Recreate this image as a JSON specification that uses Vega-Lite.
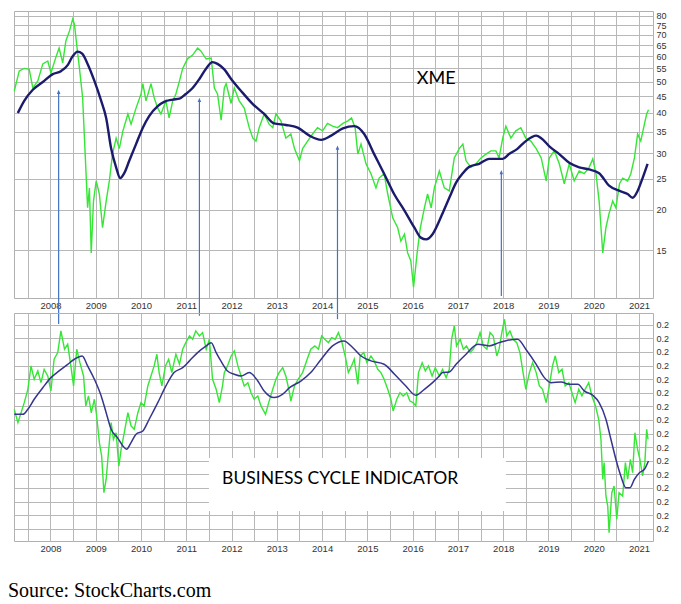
{
  "$schema": "https://vega.github.io/schema/vega-lite/v6.json",
  "background": "white",
  "padding": {"left": 8, "top": 10, "right": 5, "bottom": 5},
  "bounds": "flush",
  "spacing": 15,
  "title": {"text": "Source: StockCharts.com", "orient": "bottom", "anchor": "start", "frame": "group", "font": "Liberation Serif", "fontSize": 20, "fontWeight": "normal", "color": "#000000", "offset": 28, "dx": -6},
  "config": {
    "view": {"stroke": "#b0b0b0"},
    "axis": {"grid": true, "gridColor": "#b8b8b8", "gridOpacity": 1, "gridWidth": 1, "domain": false, "ticks": false, "labelFont": "Liberation Sans", "labelFontSize": 9.5, "labelColor": "#333333", "labelOverlap": false, "labelFlush": false, "labelBound": false}
  },
  "datasets": {
    "xme": [
      {"t":2007.20,"v":46.8},{"t":2007.31,"v":54},{"t":2007.42,"v":55},{"t":2007.53,"v":54.6},{"t":2007.61,"v":47.8},{"t":2007.72,"v":50.3},{"t":2007.83,"v":56.8},{"t":2007.94,"v":58},{"t":2008.01,"v":53.2},{"t":2008.12,"v":59.6},{"t":2008.19,"v":63.6},{"t":2008.27,"v":57.2},{"t":2008.34,"v":66.9},{"t":2008.42,"v":71.9},{"t":2008.49,"v":78.2},{"t":2008.53,"v":75.3},{"t":2008.58,"v":65},{"t":2008.64,"v":55},{"t":2008.71,"v":44.6},{"t":2008.77,"v":29},{"t":2008.82,"v":20.3},{"t":2008.86,"v":23.4},{"t":2008.90,"v":14.7},{"t":2008.95,"v":21.3},{"t":2009.01,"v":24.6},{"t":2009.08,"v":22.4},{"t":2009.15,"v":17.6},{"t":2009.23,"v":21.3},{"t":2009.30,"v":24.6},{"t":2009.37,"v":29.8},{"t":2009.45,"v":33.4},{"t":2009.52,"v":31},{"t":2009.60,"v":35.2},{"t":2009.71,"v":39.7},{"t":2009.78,"v":36.9},{"t":2009.89,"v":41.4},{"t":2010.00,"v":45.8},{"t":2010.04,"v":49.3},{"t":2010.11,"v":43.6},{"t":2010.22,"v":49.3},{"t":2010.29,"v":44.6},{"t":2010.37,"v":41.4},{"t":2010.44,"v":39.7},{"t":2010.55,"v":43.6},{"t":2010.62,"v":38.6},{"t":2010.70,"v":43.6},{"t":2010.77,"v":45.8},{"t":2010.85,"v":50.3},{"t":2010.92,"v":55},{"t":2011.03,"v":59},{"t":2011.14,"v":60.5},{"t":2011.25,"v":63.6},{"t":2011.32,"v":62.3},{"t":2011.44,"v":58.8},{"t":2011.55,"v":59.2},{"t":2011.62,"v":47.8},{"t":2011.69,"v":45.8},{"t":2011.77,"v":38},{"t":2011.84,"v":47.8},{"t":2011.88,"v":49.3},{"t":2011.99,"v":42.8},{"t":2012.06,"v":47.8},{"t":2012.17,"v":43.6},{"t":2012.28,"v":41.4},{"t":2012.39,"v":36},{"t":2012.47,"v":33.4},{"t":2012.54,"v":32.7},{"t":2012.61,"v":36},{"t":2012.72,"v":39.7},{"t":2012.83,"v":36.9},{"t":2012.91,"v":36},{"t":2012.98,"v":39.7},{"t":2013.09,"v":37.8},{"t":2013.20,"v":33.4},{"t":2013.31,"v":34.4},{"t":2013.39,"v":31},{"t":2013.50,"v":28.4},{"t":2013.57,"v":31},{"t":2013.68,"v":32.7},{"t":2013.79,"v":34.4},{"t":2013.90,"v":36},{"t":2014.01,"v":35.2},{"t":2014.12,"v":37.1},{"t":2014.23,"v":36.4},{"t":2014.34,"v":36},{"t":2014.46,"v":37.1},{"t":2014.57,"v":37.8},{"t":2014.65,"v":38.6},{"t":2014.73,"v":36},{"t":2014.79,"v":29.8},{"t":2014.86,"v":32},{"t":2014.97,"v":27.8},{"t":2015.08,"v":25.9},{"t":2015.19,"v":23.4},{"t":2015.26,"v":25.1},{"t":2015.37,"v":25.9},{"t":2015.45,"v":22.4},{"t":2015.56,"v":18.9},{"t":2015.67,"v":17.6},{"t":2015.74,"v":16},{"t":2015.82,"v":16.8},{"t":2015.89,"v":14.7},{"t":2015.96,"v":13.9},{"t":2016.02,"v":11.5},{"t":2016.10,"v":14.7},{"t":2016.17,"v":17.6},{"t":2016.26,"v":20.3},{"t":2016.33,"v":22.4},{"t":2016.41,"v":20.3},{"t":2016.48,"v":23.4},{"t":2016.59,"v":26.4},{"t":2016.70,"v":23.4},{"t":2016.81,"v":22.9},{"t":2016.92,"v":29},{"t":2017.03,"v":31},{"t":2017.11,"v":32},{"t":2017.18,"v":28.4},{"t":2017.29,"v":27.1},{"t":2017.40,"v":27.8},{"t":2017.51,"v":29},{"t":2017.62,"v":29.8},{"t":2017.73,"v":30.5},{"t":2017.84,"v":30.5},{"t":2017.91,"v":29},{"t":2017.99,"v":33.4},{"t":2018.06,"v":36.4},{"t":2018.17,"v":33.4},{"t":2018.28,"v":35.2},{"t":2018.39,"v":36},{"t":2018.50,"v":33.4},{"t":2018.61,"v":32.7},{"t":2018.73,"v":31},{"t":2018.84,"v":29},{"t":2018.95,"v":24.6},{"t":2019.02,"v":29},{"t":2019.13,"v":30.5},{"t":2019.24,"v":27.8},{"t":2019.35,"v":24.1},{"t":2019.46,"v":27.8},{"t":2019.57,"v":24.6},{"t":2019.68,"v":26.4},{"t":2019.79,"v":25.9},{"t":2019.90,"v":27.1},{"t":2019.98,"v":28.8},{"t":2020.05,"v":25.9},{"t":2020.12,"v":21.3},{"t":2020.20,"v":14.7},{"t":2020.27,"v":17.6},{"t":2020.34,"v":19.5},{"t":2020.42,"v":21.3},{"t":2020.49,"v":20.3},{"t":2020.57,"v":24.1},{"t":2020.64,"v":25.1},{"t":2020.75,"v":24.6},{"t":2020.82,"v":25.9},{"t":2020.90,"v":29},{"t":2020.97,"v":34.4},{"t":2021.04,"v":32.7},{"t":2021.12,"v":36.9},{"t":2021.17,"v":39.7},{"t":2021.21,"v":40.9}
    ],
    "xmeMA": [
      {"t":2007.28,"v":40},{"t":2007.42,"v":43.6},{"t":2007.61,"v":47.2},{"t":2007.83,"v":49.9},{"t":2008.05,"v":52.8},{"t":2008.23,"v":53.9},{"t":2008.38,"v":56.3},{"t":2008.49,"v":60},{"t":2008.60,"v":62},{"t":2008.70,"v":61.1},{"t":2008.82,"v":56.8},{"t":2008.97,"v":50.3},{"t":2009.12,"v":43.6},{"t":2009.23,"v":38.6},{"t":2009.34,"v":31},{"t":2009.45,"v":27.1},{"t":2009.54,"v":25.1},{"t":2009.63,"v":26},{"t":2009.74,"v":28.4},{"t":2009.89,"v":32},{"t":2010.04,"v":36},{"t":2010.18,"v":39.1},{"t":2010.37,"v":42},{"t":2010.51,"v":43.3},{"t":2010.70,"v":44},{"t":2010.85,"v":44.3},{"t":2010.99,"v":45.8},{"t":2011.14,"v":47.8},{"t":2011.29,"v":51},{"t":2011.44,"v":55},{"t":2011.58,"v":57.5},{"t":2011.69,"v":56.8},{"t":2011.84,"v":54.6},{"t":2011.99,"v":51},{"t":2012.21,"v":46.8},{"t":2012.47,"v":42.6},{"t":2012.72,"v":39.7},{"t":2012.94,"v":37.1},{"t":2013.20,"v":36.7},{"t":2013.46,"v":36},{"t":2013.72,"v":34},{"t":2013.98,"v":33},{"t":2014.20,"v":34},{"t":2014.46,"v":35.8},{"t":2014.71,"v":36.4},{"t":2014.93,"v":34.4},{"t":2015.15,"v":29.8},{"t":2015.37,"v":25.9},{"t":2015.59,"v":22.4},{"t":2015.82,"v":19.9},{"t":2016.04,"v":17.6},{"t":2016.18,"v":16.4},{"t":2016.30,"v":16.2},{"t":2016.44,"v":16.8},{"t":2016.59,"v":18.5},{"t":2016.66,"v":19.5},{"t":2016.81,"v":21.8},{"t":2016.96,"v":24.3},{"t":2017.11,"v":26},{"t":2017.25,"v":27.2},{"t":2017.47,"v":27.8},{"t":2017.69,"v":28.8},{"t":2017.88,"v":28.8},{"t":2017.99,"v":28.8},{"t":2018.13,"v":29.8},{"t":2018.32,"v":31},{"t":2018.50,"v":32.7},{"t":2018.73,"v":34},{"t":2018.84,"v":33.4},{"t":2019.02,"v":31.5},{"t":2019.24,"v":29.8},{"t":2019.46,"v":28},{"t":2019.68,"v":27.1},{"t":2019.90,"v":26.7},{"t":2020.12,"v":26},{"t":2020.34,"v":23.8},{"t":2020.57,"v":22.9},{"t":2020.75,"v":22.4},{"t":2020.86,"v":21.8},{"t":2020.97,"v":22.9},{"t":2021.08,"v":25.1},{"t":2021.19,"v":27.8}
    ],
    "bci": [
      {"t":2007.20,"v":9.68},{"t":2007.28,"v":8.70},{"t":2007.35,"v":9.43},{"t":2007.42,"v":10.17},{"t":2007.50,"v":11.15},{"t":2007.57,"v":12.87},{"t":2007.64,"v":11.89},{"t":2007.72,"v":12.5},{"t":2007.79,"v":11.64},{"t":2007.86,"v":12.62},{"t":2007.94,"v":12.13},{"t":2008.01,"v":11.03},{"t":2008.08,"v":13.36},{"t":2008.16,"v":13.85},{"t":2008.23,"v":15.44},{"t":2008.31,"v":14.1},{"t":2008.38,"v":14.46},{"t":2008.45,"v":12.87},{"t":2008.51,"v":11.4},{"t":2008.58,"v":14.1},{"t":2008.65,"v":13.11},{"t":2008.73,"v":12.13},{"t":2008.78,"v":9.93},{"t":2008.84,"v":10.66},{"t":2008.90,"v":9.43},{"t":2008.97,"v":10.42},{"t":2009.02,"v":9.19},{"t":2009.08,"v":7.23},{"t":2009.13,"v":6.25},{"t":2009.18,"v":3.55},{"t":2009.23,"v":4.54},{"t":2009.28,"v":6.49},{"t":2009.34,"v":8.70},{"t":2009.39,"v":7.48},{"t":2009.45,"v":7.96},{"t":2009.51,"v":5.51},{"t":2009.56,"v":6.74},{"t":2009.63,"v":7.96},{"t":2009.71,"v":9.43},{"t":2009.78,"v":8.46},{"t":2009.85,"v":8.21},{"t":2009.93,"v":9.43},{"t":2010.00,"v":10.17},{"t":2010.07,"v":9.93},{"t":2010.15,"v":11.4},{"t":2010.22,"v":12.13},{"t":2010.29,"v":12.87},{"t":2010.35,"v":13.73},{"t":2010.40,"v":12.38},{"t":2010.46,"v":11.4},{"t":2010.54,"v":12.87},{"t":2010.61,"v":13.36},{"t":2010.68,"v":12.38},{"t":2010.77,"v":13.73},{"t":2010.85,"v":12.99},{"t":2010.92,"v":14.1},{"t":2010.99,"v":14.58},{"t":2011.07,"v":15.07},{"t":2011.14,"v":14.83},{"t":2011.21,"v":15.44},{"t":2011.29,"v":15.07},{"t":2011.36,"v":15.32},{"t":2011.44,"v":14.1},{"t":2011.51,"v":14.83},{"t":2011.58,"v":11.89},{"t":2011.66,"v":11.15},{"t":2011.73,"v":10.17},{"t":2011.80,"v":11.4},{"t":2011.84,"v":12.38},{"t":2011.91,"v":12.87},{"t":2011.99,"v":13.6},{"t":2012.06,"v":13.97},{"t":2012.14,"v":12.87},{"t":2012.21,"v":12.13},{"t":2012.28,"v":11.4},{"t":2012.36,"v":11.64},{"t":2012.43,"v":10.9},{"t":2012.50,"v":10.42},{"t":2012.58,"v":10.66},{"t":2012.65,"v":9.93},{"t":2012.75,"v":9.31},{"t":2012.82,"v":10.17},{"t":2012.91,"v":11.15},{"t":2012.98,"v":11.89},{"t":2013.05,"v":12.38},{"t":2013.13,"v":12.74},{"t":2013.20,"v":12.13},{"t":2013.28,"v":10.9},{"t":2013.31,"v":10.29},{"t":2013.39,"v":11.4},{"t":2013.47,"v":11.89},{"t":2013.57,"v":12.38},{"t":2013.67,"v":13.36},{"t":2013.75,"v":14.1},{"t":2013.84,"v":14.34},{"t":2013.92,"v":14.1},{"t":2013.99,"v":15.07},{"t":2014.06,"v":14.83},{"t":2014.14,"v":14.58},{"t":2014.21,"v":14.95},{"t":2014.29,"v":14.83},{"t":2014.36,"v":15.32},{"t":2014.43,"v":14.71},{"t":2014.51,"v":13.6},{"t":2014.58,"v":12.38},{"t":2014.65,"v":12.87},{"t":2014.71,"v":13.36},{"t":2014.79,"v":11.52},{"t":2014.84,"v":13.6},{"t":2014.92,"v":13.85},{"t":2014.99,"v":13.11},{"t":2015.08,"v":13.6},{"t":2015.15,"v":13.24},{"t":2015.23,"v":12.62},{"t":2015.30,"v":12.38},{"t":2015.37,"v":11.89},{"t":2015.45,"v":11.15},{"t":2015.52,"v":10.42},{"t":2015.57,"v":9.56},{"t":2015.65,"v":10.42},{"t":2015.72,"v":10.9},{"t":2015.79,"v":10.66},{"t":2015.87,"v":10.9},{"t":2015.94,"v":10.29},{"t":2016.01,"v":10.17},{"t":2016.07,"v":9.93},{"t":2016.13,"v":12.38},{"t":2016.21,"v":13.11},{"t":2016.28,"v":12.5},{"t":2016.35,"v":12.87},{"t":2016.43,"v":12.13},{"t":2016.50,"v":12.74},{"t":2016.59,"v":12.13},{"t":2016.66,"v":12.62},{"t":2016.74,"v":12.01},{"t":2016.81,"v":12.62},{"t":2016.86,"v":14.83},{"t":2016.92,"v":15.81},{"t":2016.97,"v":14.34},{"t":2017.05,"v":14.83},{"t":2017.12,"v":14.1},{"t":2017.19,"v":14.34},{"t":2017.27,"v":13.85},{"t":2017.34,"v":14.1},{"t":2017.42,"v":14.58},{"t":2017.49,"v":15.32},{"t":2017.56,"v":14.34},{"t":2017.64,"v":14.1},{"t":2017.71,"v":15.32},{"t":2017.78,"v":15.07},{"t":2017.86,"v":13.6},{"t":2017.91,"v":14.1},{"t":2017.97,"v":15.32},{"t":2018.03,"v":16.3},{"t":2018.08,"v":15.07},{"t":2018.15,"v":15.44},{"t":2018.22,"v":14.83},{"t":2018.30,"v":14.58},{"t":2018.37,"v":13.85},{"t":2018.44,"v":12.38},{"t":2018.50,"v":11.15},{"t":2018.58,"v":12.38},{"t":2018.65,"v":13.11},{"t":2018.73,"v":12.38},{"t":2018.80,"v":11.4},{"t":2018.87,"v":11.15},{"t":2018.95,"v":10.17},{"t":2019.02,"v":11.4},{"t":2019.09,"v":12.87},{"t":2019.15,"v":13.6},{"t":2019.23,"v":12.38},{"t":2019.30,"v":12.62},{"t":2019.37,"v":11.4},{"t":2019.45,"v":11.64},{"t":2019.52,"v":10.9},{"t":2019.59,"v":10.17},{"t":2019.67,"v":11.15},{"t":2019.74,"v":10.66},{"t":2019.81,"v":11.15},{"t":2019.89,"v":11.64},{"t":2019.96,"v":10.66},{"t":2020.04,"v":9.93},{"t":2020.11,"v":8.95},{"t":2020.16,"v":7.48},{"t":2020.20,"v":4.54},{"t":2020.23,"v":5.76},{"t":2020.27,"v":3.31},{"t":2020.31,"v":2.57},{"t":2020.34,"v":0.61},{"t":2020.40,"v":3.55},{"t":2020.45,"v":4.04},{"t":2020.51,"v":1.6},{"t":2020.56,"v":3.55},{"t":2020.64,"v":3.31},{"t":2020.70,"v":5.76},{"t":2020.75,"v":4.54},{"t":2020.81,"v":6.01},{"t":2020.86,"v":5.02},{"t":2020.91,"v":7.96},{"t":2020.97,"v":6.74},{"t":2021.02,"v":6.01},{"t":2021.08,"v":4.78},{"t":2021.13,"v":5.76},{"t":2021.17,"v":8.21},{"t":2021.20,"v":7.48}
    ],
    "bciMA": [
      {"t":2007.20,"v":9.31},{"t":2007.39,"v":9.31},{"t":2007.50,"v":9.68},{"t":2007.64,"v":10.42},{"t":2007.83,"v":11.27},{"t":2008.01,"v":12.01},{"t":2008.19,"v":12.5},{"t":2008.38,"v":12.99},{"t":2008.53,"v":13.36},{"t":2008.70,"v":13.6},{"t":2008.82,"v":12.87},{"t":2008.97,"v":11.89},{"t":2009.12,"v":10.66},{"t":2009.23,"v":9.43},{"t":2009.34,"v":8.21},{"t":2009.48,"v":7.6},{"t":2009.60,"v":6.99},{"t":2009.68,"v":6.74},{"t":2009.78,"v":7.23},{"t":2009.89,"v":7.85},{"t":2010.04,"v":8.09},{"t":2010.18,"v":8.95},{"t":2010.37,"v":10.17},{"t":2010.55,"v":11.4},{"t":2010.73,"v":12.38},{"t":2010.92,"v":12.74},{"t":2011.07,"v":13.24},{"t":2011.25,"v":13.85},{"t":2011.44,"v":14.34},{"t":2011.55,"v":14.58},{"t":2011.66,"v":13.85},{"t":2011.77,"v":13.2},{"t":2011.91,"v":12.5},{"t":2012.06,"v":12.26},{"t":2012.21,"v":12.13},{"t":2012.39,"v":12.38},{"t":2012.58,"v":11.76},{"t":2012.72,"v":11.03},{"t":2012.94,"v":10.54},{"t":2013.13,"v":10.79},{"t":2013.28,"v":11.27},{"t":2013.53,"v":11.76},{"t":2013.75,"v":12.38},{"t":2013.98,"v":13.36},{"t":2014.23,"v":14.34},{"t":2014.48,"v":14.71},{"t":2014.68,"v":14.21},{"t":2014.86,"v":13.6},{"t":2015.08,"v":13.24},{"t":2015.37,"v":12.99},{"t":2015.60,"v":12.26},{"t":2015.85,"v":11.4},{"t":2016.07,"v":10.71},{"t":2016.26,"v":11.15},{"t":2016.44,"v":11.64},{"t":2016.59,"v":12.13},{"t":2016.66,"v":12.38},{"t":2016.81,"v":12.43},{"t":2016.96,"v":12.99},{"t":2017.18,"v":13.73},{"t":2017.44,"v":14.46},{"t":2017.69,"v":14.34},{"t":2017.91,"v":14.58},{"t":2018.10,"v":14.76},{"t":2018.32,"v":14.83},{"t":2018.50,"v":14.1},{"t":2018.73,"v":12.99},{"t":2018.91,"v":12.01},{"t":2019.06,"v":11.64},{"t":2019.28,"v":11.69},{"t":2019.46,"v":11.52},{"t":2019.65,"v":11.52},{"t":2019.79,"v":11.03},{"t":2019.98,"v":10.71},{"t":2020.12,"v":10.17},{"t":2020.27,"v":8.95},{"t":2020.38,"v":7.48},{"t":2020.49,"v":6.01},{"t":2020.60,"v":4.78},{"t":2020.71,"v":3.92},{"t":2020.80,"v":3.92},{"t":2020.90,"v":4.54},{"t":2021.01,"v":5.02},{"t":2021.12,"v":5.27},{"t":2021.21,"v":5.88}
    ],
    "arrowShafts": [
      {"t":2008.18,"v":8.85,"v2":46.5},
      {"t":2011.29,"v":9.38,"v2":43.9},
      {"t":2014.34,"v":9.15,"v2":31.2},
      {"t":2017.96,"v":10.8,"v2":26.2}
    ],
    "arrowHeads": [
      {"t":2008.18,"v":46.5},
      {"t":2011.29,"v":43.9},
      {"t":2014.34,"v":31.2},
      {"t":2017.96,"v":26.2}
    ]
  },
  "vconcat": [
    {
      "width": 639,
      "height": 287,
      "encoding": {
        "x": {"field": "t", "type": "quantitative", "scale": {"domain": [2007.194, 2021.31], "nice": false, "zero": false},
              "axis": {"title": null, "values": [2007.5,2008,2008.5,2009,2009.5,2010,2010.5,2011,2011.5,2012,2012.5,2013,2013.5,2014,2014.5,2015,2015.5,2016,2016.5,2017,2017.5,2018,2018.5,2019,2019.5,2020,2020.5,2021], "labelExpr": "datum.value % 1 === 0 ? format(datum.value, 'd') : ''", "labelPadding": 2, "labelOverlap": false, "grid": true, "gridColor": "#b8b8b8", "gridOpacity": 1}},
        "y": {"field": "v", "type": "quantitative", "scale": {"type": "log", "domain": [10.65, 82.9], "nice": false},
              "axis": {"title": null, "orient": "right", "values": [15,20,25,30,35,40,45,50,55,60,65,70,75,80], "format": "d", "labelFontSize": 9, "labelPadding": 3, "labelOverlap": false, "grid": true, "gridColor": "#b8b8b8", "gridOpacity": 1}}
      },
      "layer": [
        {
          "data": {"name": "xme"},
          "mark": {"type": "line", "color": "#35e635", "strokeWidth": 1.4}
        },
        {
          "data": {"name": "xmeMA"},
          "mark": {"type": "line", "color": "#1b1b6e", "strokeWidth": 2.4, "interpolate": "monotone"}
        },
        {
          "data": {"name": "arrowShafts"},
          "mark": {"type": "rule", "color": "#4472c4", "strokeWidth": 1.2, "clip": false},
          "encoding": {
            "y2": {"field": "v2"}
          }
        },
        {
          "data": {"name": "arrowHeads"},
          "mark": {"type": "point", "shape": "M0,-0.5L0.42,0.5L-0.42,0.5Z", "filled": true, "color": "#4472c4", "opacity": 1, "size": 70}
        },
        {
          "data": {"values": [{"t": 2016.52, "v": 51.0, "label": "XME"}]},
          "mark": {"type": "text", "font": "Lato", "fontSize": 18, "color": "#000000", "align": "center", "baseline": "middle"},
          "encoding": {
            "text": {"field": "label"}
          }
        }
      ]
    },
    {
      "width": 639,
      "height": 228,
      "encoding": {
        "x": {"field": "t", "type": "quantitative", "scale": {"domain": [2007.194, 2021.31], "nice": false, "zero": false},
              "axis": {"title": null, "values": [2007.5,2008,2008.5,2009,2009.5,2010,2010.5,2011,2011.5,2012,2012.5,2013,2013.5,2014,2014.5,2015,2015.5,2016,2016.5,2017,2017.5,2018,2018.5,2019,2019.5,2020,2020.5,2021], "labelExpr": "datum.value % 1 === 0 ? format(datum.value, 'd') : ''", "labelPadding": 2, "labelOverlap": false, "grid": true, "gridColor": "#b8b8b8", "gridOpacity": 1}},
        "y": {"field": "v", "type": "quantitative", "scale": {"domain": [0, 16.76], "nice": false, "zero": false},
              "axis": {"title": null, "orient": "right", "values": [0.9,1.9,2.9,3.9,4.9,5.9,6.9,7.9,8.9,9.9,10.9,11.9,12.9,13.9,14.9,15.9], "labelExpr": "'0.2'", "labelFontSize": 9, "labelPadding": 3, "labelOverlap": false, "grid": true, "gridColor": "#b8b8b8", "gridOpacity": 1}}
      },
      "layer": [
        {
          "data": {"values": [{"t": 2011.50, "t2": 2018.06, "v": 6.10, "v2": 2.21}]},
          "mark": {"type": "rect", "fill": "white"},
          "encoding": {
            "x2": {"field": "t2"},
            "y2": {"field": "v2"}
          }
        },
        {
          "data": {"name": "bci"},
          "mark": {"type": "line", "color": "#35e635", "strokeWidth": 1.4}
        },
        {
          "data": {"name": "bciMA"},
          "mark": {"type": "line", "color": "#35358f", "strokeWidth": 1.5, "interpolate": "monotone"}
        },
        {
          "data": {"values": [{"t": 2014.40, "v": 4.56, "label": "BUSINESS CYCLE INDICATOR"}]},
          "mark": {"type": "text", "font": "Lato", "fontSize": 17.5, "color": "#000000", "align": "center", "baseline": "middle"},
          "encoding": {
            "text": {"field": "label"}
          }
        }
      ]
    }
  ]
}
